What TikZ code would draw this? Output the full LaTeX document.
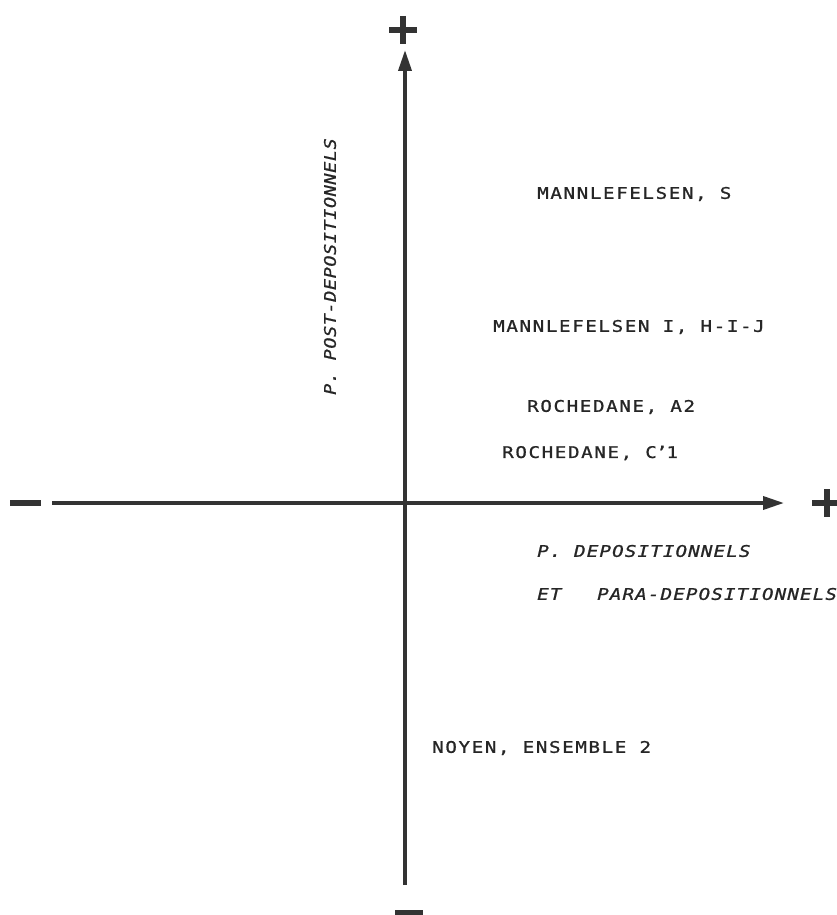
\documentclass[tikz,border=0pt]{standalone}
\usepackage{fontspec}
\usetikzlibrary{arrows.meta}
\newfontfamily\plotfont[FakeStretch=1.2,LetterSpace=10,FakeBold=1]{DejaVu Sans Mono}
\newfontfamily\plotifont[FakeStretch=1.2,LetterSpace=7,FakeBold=1]{DejaVu Sans Mono Oblique}
\newfontfamily\plotvfont[FakeStretch=1.15,LetterSpace=4,FakeBold=1]{DejaVu Sans Mono Oblique}
\tikzset{
  axis/.style={line width=3.6pt, draw=black!80, -{Triangle[length=21pt,width=13pt]}},
  sign/.style={line width=6pt, draw=black!80},
  lab/.style={anchor=west, inner sep=0pt, text=black!85, font=\plotfont\fontsize{16}{18}\selectfont},
  ilab/.style={lab, font=\plotifont\fontsize{16}{18}\selectfont},
  vlab/.style={lab, font=\plotvfont\fontsize{16}{18}\selectfont}
}
\begin{document}
\begin{tikzpicture}[x=1pt,y=-1pt]
\useasboundingbox (0,0) rectangle (837,915);
% axis ends
\coordinate (ybot) at (405,885);
\coordinate (ytop) at (405,50);
\coordinate (xleft) at (52,503);
\coordinate (xright) at (784,503);
\draw[axis] (ybot) -- (ytop);
\draw[axis] (xleft) -- (xright);
% signs
\draw[sign] (389,30) -- (417,30);
\draw[sign] (403,16) -- (403,44);
\draw[sign] (10,503) -- (41,503);
\draw[sign] (812,503) -- (840,503);
\draw[sign] (827,489) -- (827,517);
\draw[sign] (395,913) -- (423,913);
% labels
\node[lab] (ms) at (537,194) {MANNLEFELSEN, S};
\node[lab] (mi) at (493,327) {MANNLEFELSEN I, H-I-J};
\node[lab] (ra) at (527,407) {ROCHEDANE, A2};
\node[lab] (rc) at (502,453) {ROCHEDANE, C\kern-1pt\char"2019\kern-1pt1};
\node[ilab] (pd) at (537,551) {P. DEPOSITIONNELS};
\node[ilab] (et) at (537,594) {ET};
\node[ilab] (pa) at (597,594) {PARA-DEPOSITIONNELS};
\node[lab] (ny) at (432,748) {NOYEN, ENSEMBLE 2};
\node[vlab, rotate=90] (pp) at (330,395) {P. POST-DEPOSITIONNELS};
\end{tikzpicture}
\end{document}
